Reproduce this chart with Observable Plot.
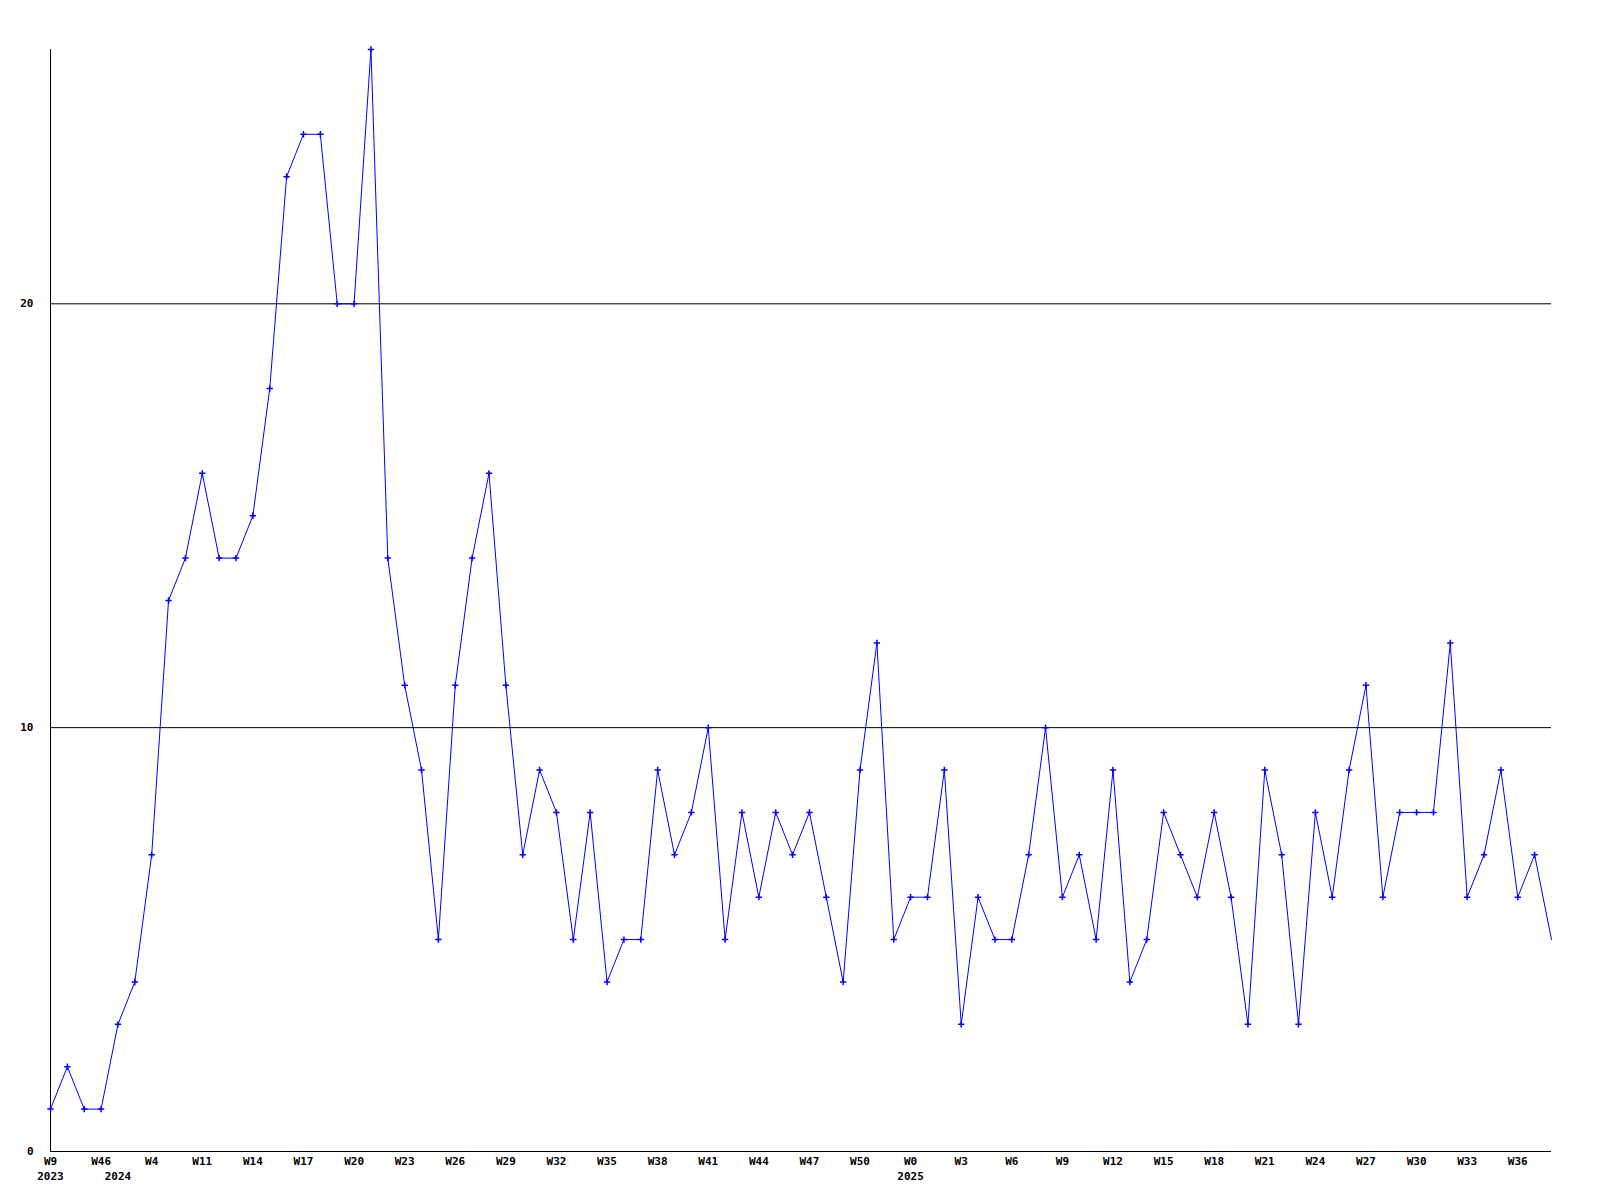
<!DOCTYPE html>
<html>
<head>
<meta charset="utf-8">
<script src="https://cdn.jsdelivr.net/npm/d3@7"></script>
<script src="https://cdn.jsdelivr.net/npm/@observablehq/plot@0.6"></script>
<style>
  html, body { margin: 0; padding: 0; background: #ffffff; }
  #chart svg { display: block; }
</style>
</head>
<body>
<div id="chart"></div>
<script>
// Weekly counts, one value per reported week (in order)
const values = [1,2,1,1,3,4,7,13,14,16,14,14,15,18,23,24,24,20,20,26,14,11,9,5,11,14,16,11,7,9,8,5,8,4,5,5,9,7,8,10,5,8,6,8,7,8,6,4,9,12,5,6,6,9,3,6,5,5,7,10,6,7,5,9,4,5,8,7,6,8,6,3,9,7,3,8,6,9,11,6,8,8,8,12,6,7,9,6,7,5];

// Week tick labels (every third reported week)
const weekTickIndex = [0,3,6,9,12,15,18,21,24,27,30,33,36,39,42,45,48,51,54,57,60,63,66,69,72,75,78,81,84,87];
const weekTickLabels = ["W9","W46","W4","W11","W14","W17","W20","W23","W26","W29","W32","W35","W38","W41","W44","W47","W50","W0","W3","W6","W9","W12","W15","W18","W21","W24","W27","W30","W33","W36"];

// Year labels
const yearTickIndex = [0,4,51];
const yearTickLabels = ["2023","2024","2025"];

// Y ticks
const yTicks = [0,10,20];

const data = values.map((v, i) => ({i, v}));
const weekLabel = new Map(weekTickIndex.map((t, k) => [t, weekTickLabels[k]]));
const yearLabel = new Map(yearTickIndex.map((t, k) => [t, yearTickLabels[k]]));

const font = "'DejaVu Sans Mono', monospace";

const chart = Plot.plot({
  width: 1600,
  height: 1200,
  marginLeft: 50,
  marginRight: 49,
  marginTop: 49,
  marginBottom: 49,
  style: {fontFamily: font, fontSize: "11px", fontWeight: "bold", background: "#ffffff", color: "#000"},
  x: {type: "linear", domain: [0, values.length - 1], label: null},
  y: {domain: [0, 26], label: null},
  marks: [
    Plot.ruleY([10, 20], {stroke: "#000", strokeWidth: 1}),
    Plot.ruleX([0], {y1: 0, y2: 26, stroke: "#000", strokeWidth: 1}),
    Plot.ruleY([0], {stroke: "#000", strokeWidth: 1}),
    Plot.axisY({ticks: yTicks, tickSize: 0, tickPadding: 17, label: null, tickFormat: d => String(d), fontWeight: "bold", fontSize: 11, fill: "#000"}),
    Plot.axisX({ticks: weekTickIndex, tickSize: 0, tickPadding: 6, label: null, tickFormat: d => weekLabel.get(d), fontWeight: "bold", fontSize: 11, fill: "#000"}),
    Plot.axisX({ticks: yearTickIndex, tickSize: 0, tickPadding: 21, label: null, tickFormat: d => yearLabel.get(d), fontWeight: "bold", fontSize: 11, fill: "#000"}),
    Plot.line(data, {x: "i", y: "v", stroke: "#0000ff", strokeWidth: 1}),
    Plot.dot(data.slice(0, -1), {x: "i", y: "v", symbol: "plus", r: 2.2, stroke: "#0000ff", strokeWidth: 1.5})
  ]
});
document.getElementById("chart").appendChild(chart);
</script>
</body>
</html>
